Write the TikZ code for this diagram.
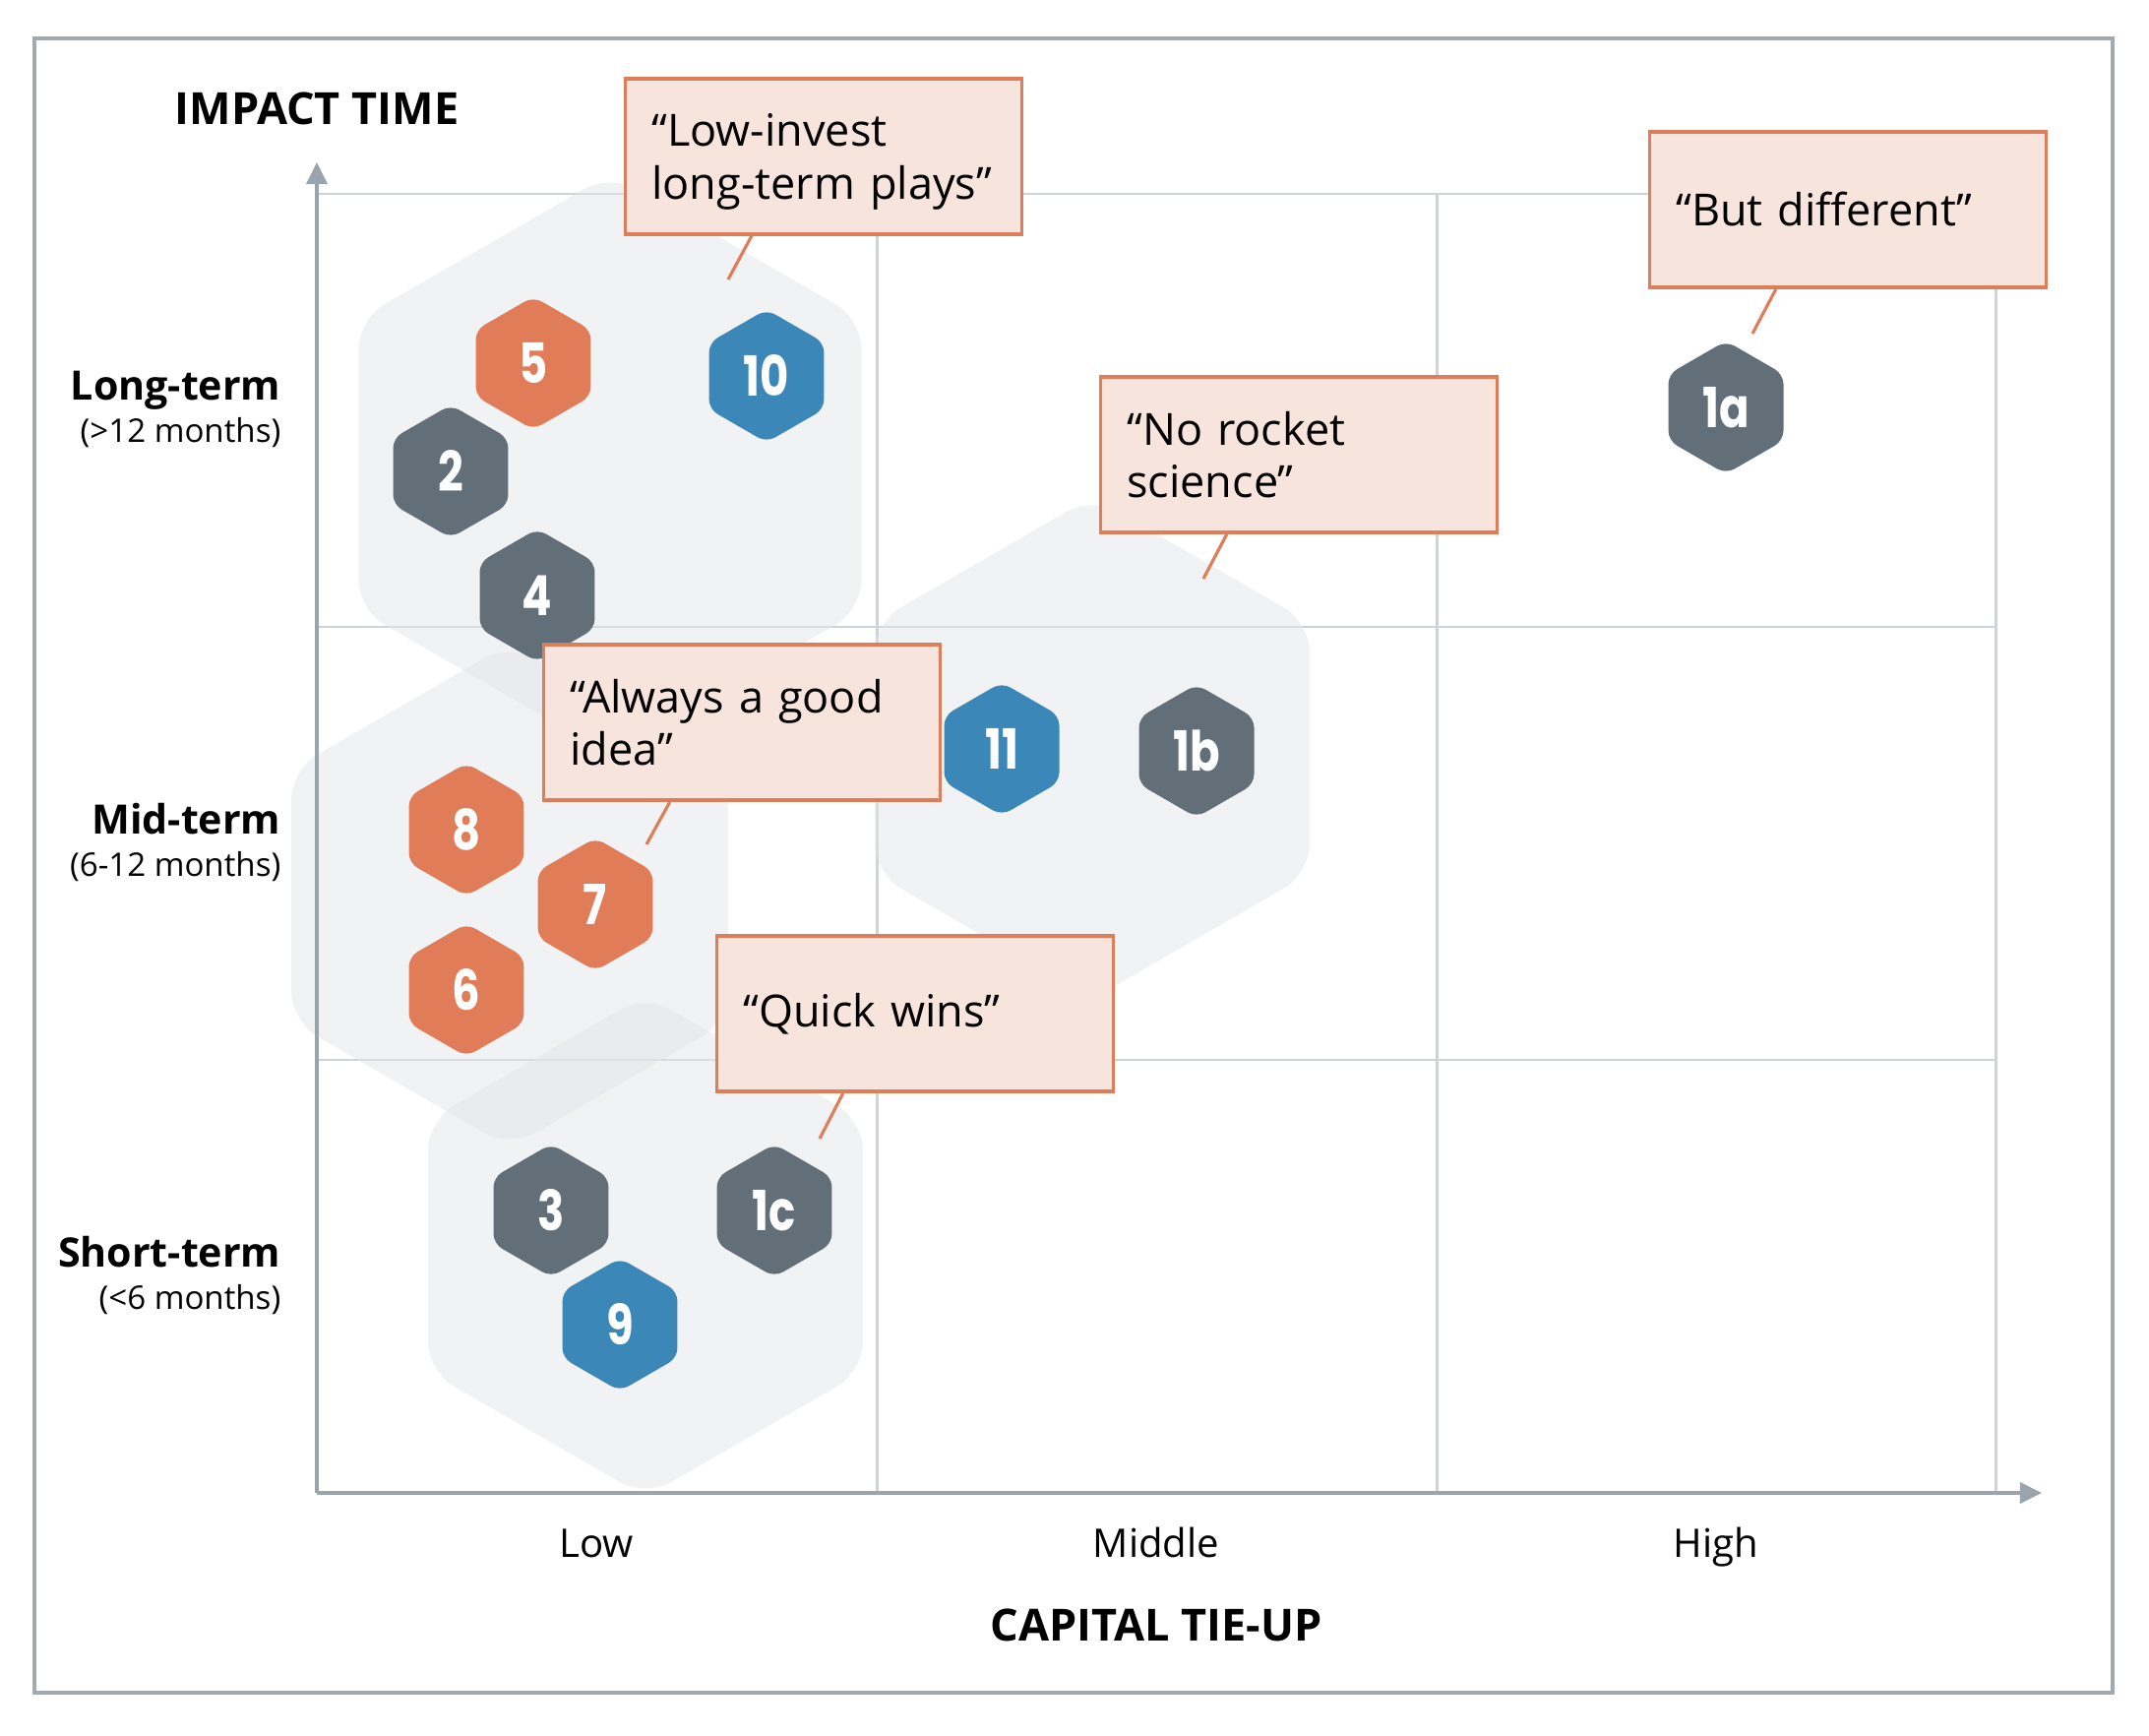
\documentclass[tikz,border=0pt]{standalone}
\usepackage{fontspec}
\setmainfont{Open Sans}
\newfontfamily\badgefont[FakeStretch=0.8]{Poppins}
\usetikzlibrary{shapes.geometric,arrows.meta,calc}

\definecolor{hexorange}{RGB}{224,124,88}
\definecolor{hexblue}{RGB}{59,135,183}
\definecolor{hexgray}{RGB}{98,110,120}
\definecolor{hexbg}{RGB}{226,229,232}
\definecolor{calloutfill}{RGB}{247,228,221}
\definecolor{calloutline}{RGB}{222,125,90}
\definecolor{gridcol}{RGB}{206,211,217}
\definecolor{axiscol}{RGB}{155,163,172}
\definecolor{framecol}{RGB}{162,169,177}

\tikzset{
    badge/.style={regular polygon, regular polygon sides=6, shape border rotate=30,
        minimum size=1.35cm, inner sep=0pt, rounded corners=0.1cm, text=white,
        font=\badgefont\bfseries\fontsize{16}{16}\selectfont},
    bghex/.style={regular polygon, regular polygon sides=6, shape border rotate=30,
        inner sep=0pt, rounded corners=0.3cm, fill=hexbg, fill opacity=0.5},
    callout/.style={draw=calloutline, fill=calloutfill, line width=1pt,
        text width=3.49cm, inner xsep=0.27cm, minimum height=1.58cm, align=left,
        font=\fontsize{12.8}{15.1}\selectfont},
    pointer/.style={draw=calloutline, line width=0.9pt},
    gridline/.style={draw=gridcol, line width=0.85pt},
    axisline/.style={draw=axiscol, line width=1.1pt, -{Triangle[width=6pt,length=6.3pt]}},
    axistitle/.style={font=\bfseries\fontsize{12.8}{15}\selectfont},
    rowhead/.style={inner xsep=0pt, font=\bfseries\fontsize{11.7}{14}\selectfont},
    rowsub/.style={inner xsep=0pt, font=\fontsize{9.4}{11}\selectfont},
    collab/.style={font=\fontsize{11.4}{14}\selectfont}
}

\begin{document}
\begin{tikzpicture}[x=0.01cm, y=-0.01cm]
        \useasboundingbox (0,0) rectangle (2184,1764);

        % Frame
        \draw [framecol, line width=1.1pt] (35,39) rectangle (2147,1720);

        % Grid
        \foreach \y in {197,637,1077}
            \draw [gridline] (322,\y) -- (2028,\y);
        \foreach \x in {891,1460,2028}
            \draw [gridline] (\x,197) -- (\x,1517);

        % Groups
        \node [bghex, minimum size=5.9cm] (grouplong) at (620,472) {};
        \node [bghex, minimum size=5.12cm] (groupmid) at (518,910) {};
        \node [bghex, minimum size=5.1cm] (groupshort) at (656,1266) {};
        \node [bghex, minimum size=5.1cm] (groupcentre) at (1110,760) {};

        % Axes
        \coordinate (origin) at (322,1517);
        \coordinate (ytop) at (322,165);
        \coordinate (xend) at (2075,1517);
        \draw [axisline] (origin) -- (ytop);
        \draw [axisline] (origin) -- (xend);

        % Measures
        \foreach \lab/\x/\y/\col in {5/542/369/hexorange, 10/779/382/hexblue,
                2/458/479/hexgray, 4/546/605/hexgray, 11/1018/761/hexblue,
                1b/1216/763/hexgray, 1a/1754/414/hexgray, 8/474/843/hexorange,
                7/605/919/hexorange, 6/474/1006/hexorange, 3/560/1230/hexgray,
                1c/787/1230/hexgray, 9/630/1346/hexblue}
            \node [badge, fill=\col] (b\lab) at (\x,\y) {\lab};

        % Callouts
        \node [callout] (lowbox) at (837,159) {“Low-invest\\\smash{long-term plays”}};
        \node [callout] (diffbox) at (1878,213) {“But different”};
        \node [callout] (rocketbox) at (1320,462) {“No rocket\\science”};
        \node [callout] (goodbox) at (754,734) {“Always a good\\idea”};
        \node [callout] (quickbox) at (930,1030) {“Quick wins”};

        \coordinate (lowtip) at (740,284);
        \coordinate (difftip) at (1781,339);
        \coordinate (rockettip) at (1223,588);
        \coordinate (goodtip) at (657,858);
        \coordinate (quicktip) at (833,1157);
        \foreach \c in {low,diff,rocket,good,quick}
            \draw [pointer] ($(\c box.south west)!0.32!(\c box.south east)$) -- (\c tip);

        % Axis labels
        \node [axistitle, anchor=base] (ytitle) at (322,127) {IMPACT TIME};
        \node [axistitle, anchor=base] (xtitle) at (1175,1667) {CAPITAL TIE-UP};
        \foreach \y/\id/\term/\months in {417/long/Long-term/{(>12 months)},
                857/mid/Mid-term/{(6-12 months)}, 1297/short/Short-term/{(<6 months)}}
        {
            \node [rowhead, anchor=base east] (head-\id) at (286,\y-10) {\term};
            \node [rowsub, anchor=base east] (sub-\id) at (286,\y+33) {\months};
        }
        \foreach \x/\lvl in {606/Low, 1175/Middle, 1744/High}
            \node [collab, anchor=base] (col-\lvl) at (\x,1582) {\lvl};
\end{tikzpicture}
\end{document}
